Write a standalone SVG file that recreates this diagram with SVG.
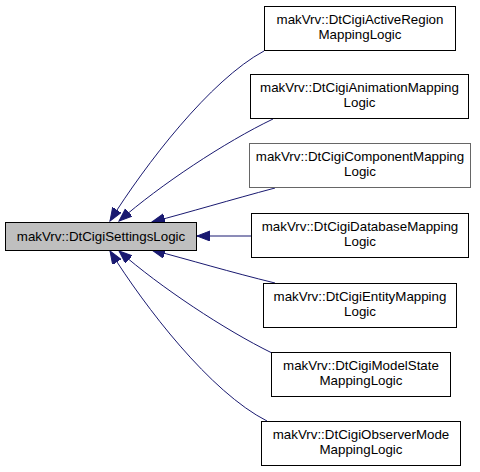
<svg xmlns="http://www.w3.org/2000/svg" width="480" height="472" viewBox="0 0 480 472">
<style>
text{font-family:"Liberation Sans",Arial,sans-serif;font-size:13.33px;fill:#000;text-anchor:middle}
.n{fill:#fff;stroke:#000;stroke-width:1}
.m{fill:#bfbfbf;stroke:#000;stroke-width:1}
.e{fill:none;stroke:#191970;stroke-width:1;marker-end:url(#ah)}
</style>
<defs>
<marker id="ah" markerUnits="userSpaceOnUse" markerWidth="16" markerHeight="12" refX="13" refY="5" orient="auto" viewBox="0 0 16 12">
<path d="M0,0 L13,5 L0,10 Z" fill="#191970" stroke="#191970" stroke-width="1"/>
</marker>
</defs>
<rect width="480" height="472" fill="#fff"/>
<g id="connectors">
<path class="e" d="M264,51 C210,80 145,165 110,221"/>
<path class="e" d="M273,119 C225,142 160,185 119,221"/>
<path class="e" d="M275,188 C230,200 190,212 152,222"/>
<path class="e" d="M251,236 L197,236"/>
<path class="e" d="M275,283 C230,272 190,260 152,250"/>
<path class="e" d="M272,353 C225,330 160,287 119,251"/>
<path class="e" d="M267,421 C210,392 145,307 110,251"/>
</g>
<g id="main">
<rect class="m" x="5.5" y="222.5" width="191" height="28"/>
<text x="101" y="241">makVrv::DtCigiSettingsLogic</text>
</g>
<g id="n1">
<rect class="n" x="264.5" y="6.5" width="191" height="44"/>
<text x="360" y="24">makVrv::DtCigiActiveRegion</text>
<text x="360" y="39">MappingLogic</text>
</g>
<g id="n2">
<rect class="n" x="250.5" y="74.5" width="218" height="44"/>
<text x="359.5" y="92">makVrv::DtCigiAnimationMapping</text>
<text x="359.5" y="107">Logic</text>
</g>
<g id="n3">
<rect class="n" x="249.5" y="143.5" width="221" height="44" style="stroke:#666"/>
<text x="360" y="161">makVrv::DtCigiComponentMapping</text>
<text x="360" y="176">Logic</text>
</g>
<g id="n4">
<rect class="n" x="251.5" y="213.5" width="217" height="44"/>
<text x="360" y="231">makVrv::DtCigiDatabaseMapping</text>
<text x="360" y="246">Logic</text>
</g>
<g id="n5">
<rect class="n" x="263.5" y="283.5" width="193" height="44"/>
<text x="360" y="301">makVrv::DtCigiEntityMapping</text>
<text x="360" y="316">Logic</text>
</g>
<g id="n6">
<rect class="n" x="271.5" y="352.5" width="179" height="44"/>
<text x="361" y="370">makVrv::DtCigiModelState</text>
<text x="361" y="385">MappingLogic</text>
</g>
<g id="n7">
<rect class="n" x="261.5" y="421.5" width="199" height="44"/>
<text x="361" y="439">makVrv::DtCigiObserverMode</text>
<text x="361" y="454">MappingLogic</text>
</g>
</svg>
